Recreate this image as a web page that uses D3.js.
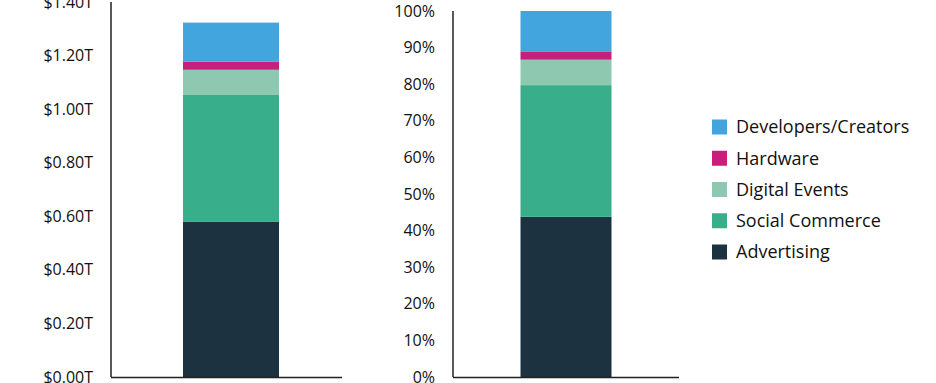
<!DOCTYPE html>
<html><head><meta charset="utf-8">
<script src="https://cdn.jsdelivr.net/npm/d3@7"></script>
<style>body{margin:0;background:#fff}svg{display:block}text{font-family:"Open Sans",Lato,sans-serif;fill:#111}</style>
</head><body><svg id="c" width="936" height="383"></svg>
<script>
const categories = ["Total"];
const seriesNames = ["Advertising","Social Commerce","Digital Events","Hardware","Developers/Creators"];
const seriesValues = [0.579, 0.476, 0.092, 0.030, 0.146]; // trillions USD
const seriesColors = ["#1d3240","#38ae8a","#8ec8b0","#c8207a","#42a5de"];
const leftTicks = [0,0.2,0.4,0.6,0.8,1.0,1.2,1.4];
const rightTicks = [0,0.1,0.2,0.3,0.4,0.5,0.6,0.7,0.8,0.9,1.0];

const svg = d3.select("#c");
const row = {}; seriesNames.forEach((n,i)=>row[n]=seriesValues[i]);
const data = [Object.assign({cat:categories[0]}, row)];

function panel(opts){
  const g = svg.append("g");
  const stack = d3.stack().keys(seriesNames).offset(opts.offset);
  const layers = stack(data);
  const y = d3.scaleLinear().domain(opts.domain).range([377, opts.yTop]);
  const bw = opts.barW;
  const cx = opts.barCx;
  g.selectAll("g.layer").data(layers).join("g")
    .attr("fill",(d,i)=>seriesColors[i])
    .selectAll("rect").data(d=>d).join("rect")
    .attr("x", cx - bw/2).attr("width", bw)
    .attr("y", d=>y(d[1])).attr("height", d=>y(d[0])-y(d[1]));
  const ax = d3.axisLeft(y).tickValues(opts.ticks).tickFormat(opts.fmt).tickSize(0).tickPadding(opts.pad);
  const ag = g.append("g").attr("transform",`translate(${opts.x0},0)`).call(ax);
  ag.select(".domain").attr("stroke","#222").attr("stroke-width",1.5).attr("d",`M0,${opts.yTop}V377`);
  ag.selectAll("text").style("font-size","16px").attr("fill","#111");
  g.append("line").attr("x1",opts.x0).attr("x2",opts.x1).attr("y1",377.5).attr("y2",377.5).attr("stroke","#222").attr("stroke-width",1.5);
}
panel({x0:111,x1:342,yTop:2,domain:[0,1.4],ticks:leftTicks,fmt:d=>"$"+d.toFixed(2)+"T",pad:18,offset:d3.stackOffsetNone,barW:96,barCx:231});
panel({x0:453,x1:679,yTop:11,domain:[0,1],ticks:rightTicks,fmt:d3.format(".0%"),pad:18,offset:d3.stackOffsetExpand,barW:91,barCx:566});

const legendOrder = seriesNames.map((n,i)=>({n,c:seriesColors[i]})).reverse();
const lg = svg.append("g").attr("transform","translate(712,0)");
const ly = d3.scalePoint().domain(legendOrder.map(d=>d.n)).range([127,252]);
const it = lg.selectAll("g").data(legendOrder).join("g").attr("transform",d=>`translate(0,${ly(d.n)})`);
it.append("rect").attr("x",0).attr("y",-7.5).attr("width",15).attr("height",15).attr("fill",d=>d.c);
it.append("text").attr("x",24).attr("dy","0.35em").style("font-size","18px").text(d=>d.n);
</script></body></html>
